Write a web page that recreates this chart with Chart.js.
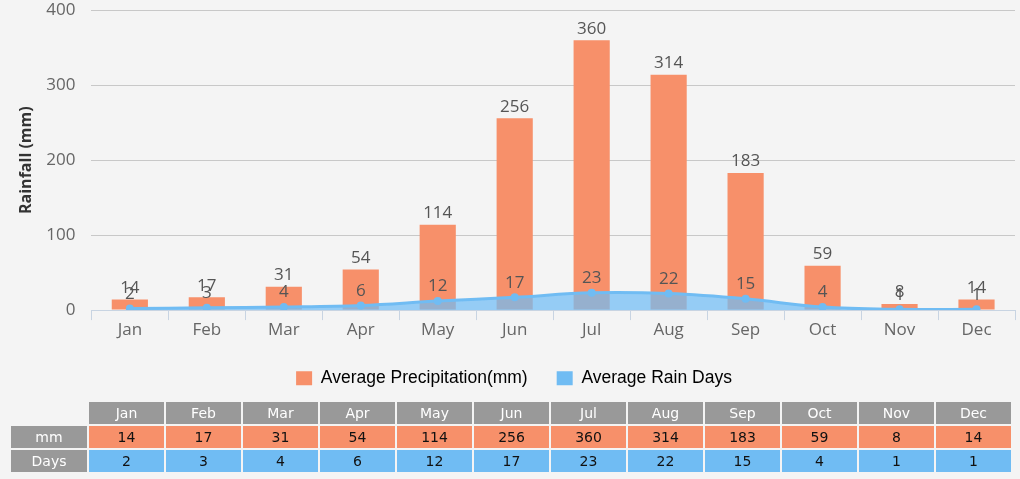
<!DOCTYPE html>
<html><head><meta charset="utf-8">
<script src="https://cdn.jsdelivr.net/npm/chart.js@4"></script>
<style>
html,body{margin:0;padding:0;background:#f4f4f4;width:1020px;height:479px;overflow:hidden;}
#wrap{position:absolute;left:0;top:-16px;width:1020px;height:419px;}
table{position:absolute;left:9px;top:400px;border-collapse:separate;border-spacing:2px;font-family:"DejaVu Sans",Verdana,sans-serif;font-size:14px;}
td{height:22px;padding:0;text-align:center;width:75px;line-height:22px;}
td.lab{width:76px;background:#999;color:#fff;}
tr.hd td.m{background:#999;color:#fff;}
tr.mm td.m{background:#f7906a;color:#111;}
tr.dy td.m{background:#70bcf3;color:#111;}
</style></head><body>
<div id="wrap"><canvas id="c"></canvas></div>
<table id="t"></table>
<script>
const months = ["Jan","Feb","Mar","Apr","May","Jun","Jul","Aug","Sep","Oct","Nov","Dec"];
const precipitation = [14,17,31,54,114,256,360,314,183,59,8,14];
const rainDays = [2,3,4,6,12,17,23,22,15,4,1,1];
const yTicks = [0,100,200,300,400];

// table
const t = document.getElementById('t');
let h = '<tr class="hd"><td style="background:transparent"></td>' + months.map(m=>'<td class="m">'+m+'</td>').join('') + '</tr>';
h += '<tr class="mm"><td class="lab">mm</td>' + precipitation.map(v=>'<td class="m">'+v+'</td>').join('') + '</tr>';
h += '<tr class="dy"><td class="lab">Days</td>' + rainDays.map(v=>'<td class="m">'+v+'</td>').join('') + '</tr>';
t.innerHTML = h;

const labelPlugin = {
  id:'vlabels',
  afterDatasetsDraw(chart){
    const ctx = chart.ctx;
    ctx.save();
    ctx.font = '17px "Open Sans", sans-serif';
    ctx.fillStyle = '#555';
    ctx.textAlign = 'center';
    ctx.textBaseline = 'bottom';
    chart.data.datasets.forEach((ds,i)=>{
      const meta = chart.getDatasetMeta(i);
      meta.data.forEach((el,j)=>{
        const off = ds.type==='line' ? 6 : 3;
        ctx.fillText(String(ds.data[j]), el.x, el.y - off);
      });
    });
    ctx.restore();
  }
};

new Chart(document.getElementById('c'), {
  data:{
    labels: months,
    datasets:[
      {type:'bar', label:'Average Precipitation(mm)', data: precipitation, backgroundColor:'#f7906a', barPercentage:0.47, categoryPercentage:1, order:1},
      {type:'line', label:'Average Rain Days', data: rainDays, borderColor:'#70bcf3', backgroundColor:'rgba(112,188,245,0.72)',
       fill:'origin', tension:0.35, borderWidth:3, pointRadius:4, pointBackgroundColor:'#70bcf3', pointBorderWidth:0, order:0}
    ]
  },
  options:{
    responsive:true, maintainAspectRatio:false, animation:false,
    layout:{padding:{left:13,right:5,top:-4,bottom:6}},
    plugins:{
      legend:{position:'bottom', labels:{boxWidth:16, boxHeight:14, color:'#111', padding:29, font:{family:'"Liberation Sans", Arial, sans-serif', size:17.5},
        generateLabels(chart){
          return chart.data.datasets.map((ds,i)=>({text:ds.label, fillStyle: i===0?'#f7906a':'#70bcf3', strokeStyle:'transparent', lineWidth:0, datasetIndex:i, hidden:false}));
        }}},
      tooltip:{enabled:false}
    },
    scales:{
      x:{grid:{display:true, drawOnChartArea:false, offset:true, color:'#c8d4e2', tickLength:10}, border:{color:'#c8d4e2'},
         ticks:{color:'#666', font:{family:'"Open Sans", sans-serif', size:17}, padding:0}},
      y:{min:0, max:400, afterBuildTicks(ax){ax.ticks = yTicks.map(v=>({value:v}));},
         grid:{color:'#c8c8c8', drawTicks:false}, border:{display:false},
         ticks:{color:'#666', font:{family:'"Open Sans", sans-serif', size:17}, padding:16},
         title:{display:true, text:'Rainfall (mm)', color:'#333', font:{family:'"Open Sans", sans-serif', size:16, weight:'bold'}, padding:{top:4,bottom:-6}}}
    }
  },
  plugins:[labelPlugin]
});
</script>
</body></html>
